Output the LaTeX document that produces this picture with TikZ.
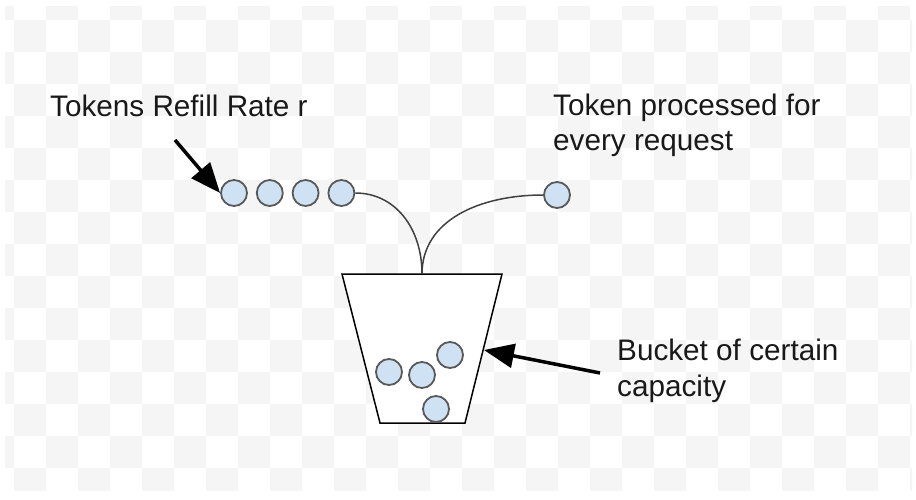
\documentclass[tikz,border=0pt]{standalone}
\usepackage{fontspec}
\setmainfont{Liberation Sans}
\usetikzlibrary{positioning, arrows.meta}
\definecolor{tokenblue}{HTML}{CFE2F3}
\definecolor{tokenedge}{HTML}{595959}
\definecolor{checkgray}{HTML}{F5F5F5}

\begin{document}
\begin{tikzpicture}[
	  x=1pt, y=-1pt,
	  font=\fontsize{29.7}{35.5}\selectfont,
	  token/.style={circle, draw=tokenedge, fill=tokenblue, line width=1.8pt, minimum size=26pt, inner sep=0pt},
	  lbl/.style={anchor=base west, align=left, inner sep=0pt, text=black!90},
	  pipe/.style={draw=black!75, line width=1.5pt},
	  pointer/.style={-{Triangle[length=30pt, width=24pt]}, line width=3.5pt}
	]

	\useasboundingbox (0,0) rectangle (916,500);

	% checkered background
	\begin{scope}
	\clip (5,7) rectangle (912,490);
	\foreach \i in {-1,...,14}
	  \foreach \j in {-1,...,28} {
	    \pgfmathparse{int(mod(\i+\j+2,2))}
	    \ifnum\pgfmathresult=0
	      \fill[checkgray] (14+32*\j,20+32*\i) rectangle ++(32,32);
	    \fi
	  }
	\end{scope}

	% refill tokens
	\node[token] (t1) at (234,193) {};
	\node[token, right=8pt of t1] (t2) {};
	\node[token, right=8pt of t2] (t3) {};
	\node[token, right=8pt of t3] (t4) {};
	\node[token] (out) at (557,195) {};

	% bucket
	\draw[line width=1.5pt, fill=white] (342,274) -- (502,274) -- (465,423) -- (380,423) -- cycle;
	\coordinate (btop) at (422,274);
	\coordinate (bedge) at (484,350);

	\node[token] (b1) at (389,372) {};
	\node[token] (b2) at (422,375) {};
	\node[token] (b3) at (450,355) {};
	\node[token] (b4) at (436,409) {};

	\draw[pipe] (t4.east) .. controls (395,193) and (422,228) .. (btop);
	\draw[pipe] (btop) .. controls (422,220) and (480,195) .. (out.west);

	% labels (base = last line)
	\node[lbl] (refill) at (50,117) {Tokens Refill Rate r};
	\node[lbl] (processed) at (553,151) {Token processed for\\every request};
	\node[lbl] (capacity) at (617,396) {Bucket of certain\\capacity};

	\coordinate (refillfrom) at (175,140);
	\coordinate (capfrom) at (600,373);
	\draw[pointer] (refillfrom) -- (t1.west);
	\draw[pointer] (capfrom) -- (bedge);

\end{tikzpicture}
\end{document}
